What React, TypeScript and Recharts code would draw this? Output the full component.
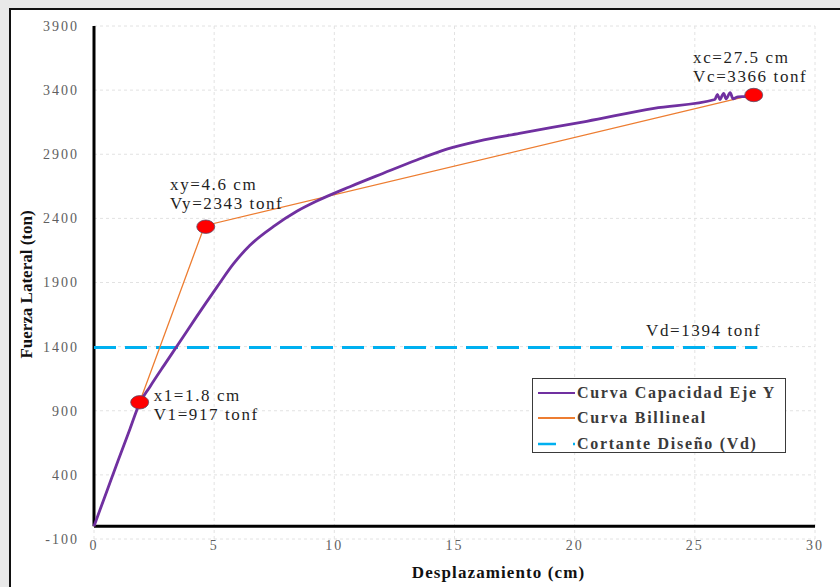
import React from 'react';
import {
  ComposedChart,
  Line,
  Scatter,
  XAxis,
  YAxis,
  CartesianGrid,
  ReferenceLine,
  Legend,
  LabelList,
} from 'recharts';

// ---------- data ----------
const capacityX = [0, 0.5, 1.0, 1.5, 1.9, 2.33, 2.9, 3.51, 4.27, 5.1, 5.8, 6.49, 7.46, 8.44, 9.27, 10.65, 12.04, 13.43, 14.68, 16.0, 17.7, 20.5, 23.3, 25.83, 25.94, 26.04, 26.2, 26.3, 26.47, 26.59, 26.8, 27.1, 27.45];
const capacityY = [0, 255, 510, 760, 960, 1088, 1250, 1420, 1634, 1860, 2045, 2190, 2335, 2455, 2535, 2647, 2752, 2855, 2940, 3003, 3063, 3157, 3258, 3327, 3367, 3327, 3375, 3332, 3380, 3332, 3348, 3350, 3362];

const bilinearX = [0, 4.6, 27.5];
const bilinearY = [0, 2343, 3366];

const designX = [0, 27.6];
const designValue = 1394;

const keyPointX = [1.9, 4.65, 27.45];
const keyPointY = [966, 2335, 3362];
const keyPointLine1 = ['x1=1.8 cm', 'xy=4.6 cm', 'xc=27.5 cm'];
const keyPointLine2 = ['V1=917 tonf', 'Vy=2343 tonf', 'Vc=3366 tonf'];

const xTicks = [0, 5, 10, 15, 20, 25, 30];
const yTicks = [-100, 400, 900, 1400, 1900, 2400, 2900, 3400, 3900];

const seriesNames = ['Curva Capacidad Eje Y', 'Curva Billineal', 'Cortante Diseño (Vd)'];
const xTitle = 'Desplazamiento (cm)';
const yTitle = 'Fuerza Lateral (ton)';

// ---------- tables built from arrays ----------
const capacityData = capacityX.map((x, i) => ({ x, y: capacityY[i] }));
const bilinearData = bilinearX.map((x, i) => ({ x, y: bilinearY[i] }));
const designData = designX.map((x) => ({ x, y: designValue }));
const keyPointData = keyPointX.map((x, i) => ({
  x,
  y: keyPointY[i],
  id: i,
  l1: keyPointLine1[i],
  l2: keyPointLine2[i],
}));

// ---------- styles ----------
const SERIF = '"Liberation Serif", "Times New Roman", serif';
const PURPLE = '#7030A0';
const ORANGE = '#ED7D31';
const CYAN = '#00B0F0';
const labelOffsets = [
  { dx: 14, dy1: -1.6, dy2: 17.7 },
  { dx: -35.7, dy1: -36.7, dy2: -17.7 },
  { dx: -60.6, dy1: -32.3, dy2: -13.3 },
];

const annoStyle = {
  fontFamily: SERIF,
  fontSize: 17,
  letterSpacing: 1.6,
  fill: '#1f1f1f',
};

const KeyPointShape = (props: any) => {
  const { cx, cy, payload } = props;
  const off = labelOffsets[payload.id];
  return (
    <g>
      <ellipse cx={cx} cy={cy} rx={9} ry={6.7} fill="#FF0000" stroke="#5b4b66" strokeWidth={0.8} />
      <text x={cx + off.dx} y={cy + off.dy1} style={annoStyle}>{payload.l1}</text>
      <text x={cx + off.dx} y={cy + off.dy2} style={annoStyle}>{payload.l2}</text>
    </g>
  );
};

const LegendBox = () => {
  const rows = [
    { name: seriesNames[0], color: PURPLE, dash: undefined as string | undefined, w: 2.2 },
    { name: seriesNames[1], color: ORANGE, dash: undefined, w: 2 },
    { name: seriesNames[2], color: CYAN, dash: '18 17 2 10', w: 2.5 },
  ];
  return (
    <div
      style={{
        width: 254,
        height: 75,
        border: '1px solid #3a3a3a',
        boxSizing: 'border-box',
        background: '#fff',
        fontFamily: SERIF,
        fontWeight: 'bold',
        fontSize: 16,
        color: '#3a3a3a',
        letterSpacing: 1.7,
        whiteSpace: 'nowrap',
        paddingTop: 1,
      }}
    >
      {rows.map((r) => (
        <div key={r.name} style={{ height: 25.5, display: 'flex', alignItems: 'center', paddingLeft: 5 }}>
          <svg width={38} height={10} style={{ display: 'block' }}>
            <line x1={0} y1={5} x2={37} y2={5} stroke={r.color} strokeWidth={r.w} strokeDasharray={r.dash} />
          </svg>
          <span style={{ marginLeft: 1, lineHeight: '20px' }}>{r.name}</span>
        </div>
      ))}
    </div>
  );
};

export default function App() {
  return (
    <div
      style={{
        position: 'fixed',
        left: 0,
        top: 0,
        width: 840,
        height: 587,
        background: '#e9e9e9',
        overflow: 'hidden',
      }}
    >
      <div
        style={{
          position: 'absolute',
          left: 9,
          top: 8,
          width: 840,
          height: 600,
          background: '#fff',
          borderLeft: '2px solid #111',
          borderTop: '2px solid #111',
        }}
      />
      <div style={{ position: 'absolute', left: 0, top: 0 }}>
        <ComposedChart width={840} height={587} margin={{ top: 26, right: 25, bottom: 0, left: 0 }}>
          <CartesianGrid stroke="#e2e2e2" strokeDasharray="3 3" />
          <XAxis
            dataKey="x"
            type="number"
            domain={[0, 30]}
            ticks={xTicks}
            interval={0}
            axisLine={false}
            tickLine={false}
            tickSize={0}
            tickMargin={1}
            height={48}
            tick={{ fontFamily: SERIF, fontSize: 14, fill: '#5f5f5f', letterSpacing: 2 }}
            label={(p: any) => {
              const vb = p.viewBox;
              return (
                <text
                  x={vb.x + vb.width / 2 + 44}
                  y={578}
                  textAnchor="middle"
                  style={{ fontFamily: SERIF, fontSize: 17, fontWeight: 'bold', fill: '#111', letterSpacing: 1.1 }}
                >
                  {xTitle}
                </text>
              );
            }}
          />
          <YAxis
            type="number"
            domain={[-100, 3900]}
            ticks={yTicks}
            interval={0}
            allowDataOverflow
            axisLine={false}
            tickLine={false}
            tickSize={0}
            tickMargin={15}
            width={94}
            tick={{ fontFamily: SERIF, fontSize: 14, fill: '#5f5f5f', letterSpacing: 2 }}
            label={(p: any) => {
              const vb = p.viewBox;
              const cx = 26;
              const cy = vb.y + vb.height / 2 + 2;
              return (
                <text
                  x={cx}
                  y={cy}
                  transform={`rotate(-90 ${cx} ${cy})`}
                  textAnchor="middle"
                  dominantBaseline="central"
                  style={{ fontFamily: SERIF, fontSize: 17, fontWeight: 'bold', fill: '#111' }}
                >
                  {yTitle}
                </text>
              );
            }}
          />
          <ReferenceLine
            segment={[{ x: 0, y: 0 }, { x: 30, y: 0 }]}
            stroke="#000"
            strokeWidth={3}
          />
          <ReferenceLine
            segment={[{ x: 0, y: 0 }, { x: 0, y: 3900 }]}
            stroke="#000"
            strokeWidth={3}
          />
          <Line
            data={designData}
            dataKey="y"
            name={seriesNames[2]}
            stroke={CYAN}
            strokeWidth={3}
            strokeDasharray="22 9"
            dot={false}
            activeDot={false}
            isAnimationActive={false}
          >
            <LabelList
              dataKey="y"
              content={(p: any) =>
                p.index === 1 ? (
                  <text x={p.x + 4} y={p.y - 11.7} textAnchor="end" style={annoStyle}>
                    {`Vd=${p.value} tonf`}
                  </text>
                ) : null
              }
            />
          </Line>
          <Line
            data={bilinearData}
            dataKey="y"
            name={seriesNames[1]}
            stroke={ORANGE}
            strokeWidth={1.3}
            dot={false}
            activeDot={false}
            isAnimationActive={false}
          />
          <Line
            data={capacityData}
            dataKey="y"
            type="monotone"
            name={seriesNames[0]}
            stroke={PURPLE}
            strokeWidth={2.8}
            strokeLinejoin="round"
            dot={false}
            activeDot={false}
            isAnimationActive={false}
          />
          <Scatter data={keyPointData} dataKey="y" shape={KeyPointShape} isAnimationActive={false} />
          <Legend
            layout="horizontal"
            verticalAlign="middle"
            align="center"
            content={() => <LegendBox />}
            wrapperStyle={{ position: 'absolute', left: 532, top: 378, width: 254, height: 75 }}
          />
        </ComposedChart>
      </div>
    </div>
  );
}
